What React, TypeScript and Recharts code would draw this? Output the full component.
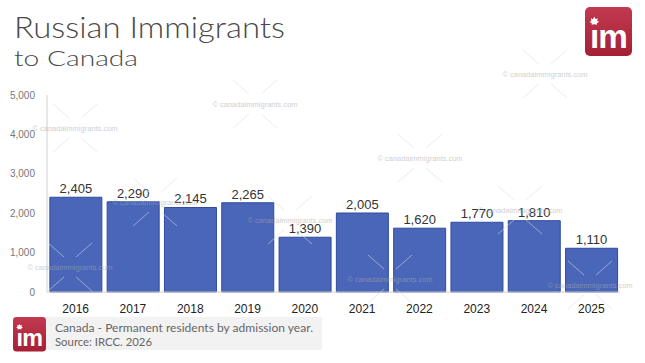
import React from 'react';
import { BarChart, Bar, XAxis, YAxis, LabelList } from 'recharts';

const years = ['2016', '2017', '2018', '2019', '2020', '2021', '2022', '2023', '2024', '2025'];
const residents = [2405, 2290, 2145, 2265, 1390, 2005, 1620, 1770, 1810, 1110];
const yTicks = [0, 1000, 2000, 3000, 4000, 5000];

const data = years.map((y, i) => ({ year: y, value: residents[i] }));

const watermarks = [
  [75, 128], [255, 104], [545, 74], [420, 158], [520, 210], [70, 267], [155, 202], [290, 220], [390, 279], [590, 285],
];

const Logo = ({ x, y, size }: { x: number; y: number; size: number }) => {
  const s = size / 48;
  return (
    <g transform={`translate(${x},${y}) scale(${s})`}>
      <defs>
        <linearGradient id={`lg${x}`} x1="0" y1="0" x2="0" y2="1">
          <stop offset="0" stopColor="#c23a4f" />
          <stop offset="1" stopColor="#a51f35" />
        </linearGradient>
      </defs>
      <rect x={0} y={0} width={48} height={50} rx={5} fill={`url(#lg${x})`} />
      <text x={24} y={42} textAnchor="middle" fontFamily="'Liberation Sans', Arial, sans-serif" fontWeight="bold" fontSize={34} fill="#fff" letterSpacing={-1}>ım</text>
      <path d="M9.5 10 l1.5 2.5 l2-1 l-0.5 3 l2 0.3 l-2.5 2 l0.3 1.4 l-2.8-0.6 l-2.8 0.6 l0.3-1.4 l-2.5-2 l2-0.3 l-0.5-3 l2 1z" fill="#fff" />
    </g>
  );
};

export default function App() {
  return (
    <div style={{ position: 'absolute', left: 0, top: 0, width: 645, height: 363, background: '#fff' }}>
      <BarChart width={645} height={363} data={data} margin={{ top: 95, right: 25, bottom: 41, left: 7 }} barCategoryGap="5%">
        <XAxis dataKey="year" axisLine={{ stroke: '#d0d0d0' }} tickLine={false} height={30}
          tick={{ fill: '#222', fontSize: 12, fontFamily: "'Liberation Sans', Arial, sans-serif" }} tickMargin={6} />
        <YAxis width={40} domain={[0, 5000]} ticks={yTicks} axisLine={{ stroke: '#d0d0d0' }} tickLine={false}
          tickFormatter={(v: number) => v.toLocaleString('en-US')}
          tick={{ fill: '#777', fontSize: 10, fontFamily: "'Liberation Sans', Arial, sans-serif" }} tickMargin={6} />
        <Bar dataKey="value" fill="#4a66b9" stroke="#2f4b9c" strokeWidth={1} isAnimationActive={false}>
          <LabelList dataKey="value" position="top" offset={4}
            formatter={(v: number) => v.toLocaleString('en-US')}
            style={{ fill: '#333', fontSize: 13, fontFamily: "'Liberation Sans', Arial, sans-serif" }} />
        </Bar>
      </BarChart>
      <svg width={645} height={363} style={{ position: 'absolute', left: 0, top: 0, pointerEvents: 'none' }}>
        {watermarks.map(([cx, cy], i) => (
          <g key={i} opacity={0.55}>
            <line x1={cx - 22} y1={cy - 24} x2={cx - 6} y2={cy - 10} stroke="#ddd" />
            <line x1={cx + 22} y1={cy - 24} x2={cx + 6} y2={cy - 10} stroke="#ddd" />
            <line x1={cx - 22} y1={cy + 24} x2={cx - 6} y2={cy + 10} stroke="#ddd" />
            <line x1={cx + 22} y1={cy + 24} x2={cx + 6} y2={cy + 10} stroke="#ddd" />
            <text x={cx} y={cy + 3} textAnchor="middle" fontSize={7.5} fill="#aaa" fontFamily="'Liberation Sans', Arial, sans-serif">© canadaimmigrants.com</text>
          </g>
        ))}
        <text x={14} y={38} fontSize={29} fill="#4a4a4a" fontFamily="Lato, sans-serif" fontWeight={300} textLength={271} lengthAdjust="spacingAndGlyphs">Russian Immigrants</text>
        <text x={14} y={66} fontSize={22} fill="#4a4a4a" fontFamily="Lato, sans-serif" fontWeight={300} textLength={124} lengthAdjust="spacingAndGlyphs">to Canada</text>
        <Logo x={585} y={7} size={47} />
        <rect x={46} y={317} width={276} height={33} fill="#f2f2f2" />
        <Logo x={13} y={317} size={33} />
        <text x={55} y={332} fontSize={12} fill="#666" fontFamily="Lato, sans-serif" textLength={258} lengthAdjust="spacingAndGlyphs">Canada - Permanent residents by admission year.</text>
        <text x={55} y={346} fontSize={12} fill="#666" fontFamily="Lato, sans-serif" textLength={97} lengthAdjust="spacingAndGlyphs">Source: IRCC. 2026</text>
      </svg>
    </div>
  );
}
